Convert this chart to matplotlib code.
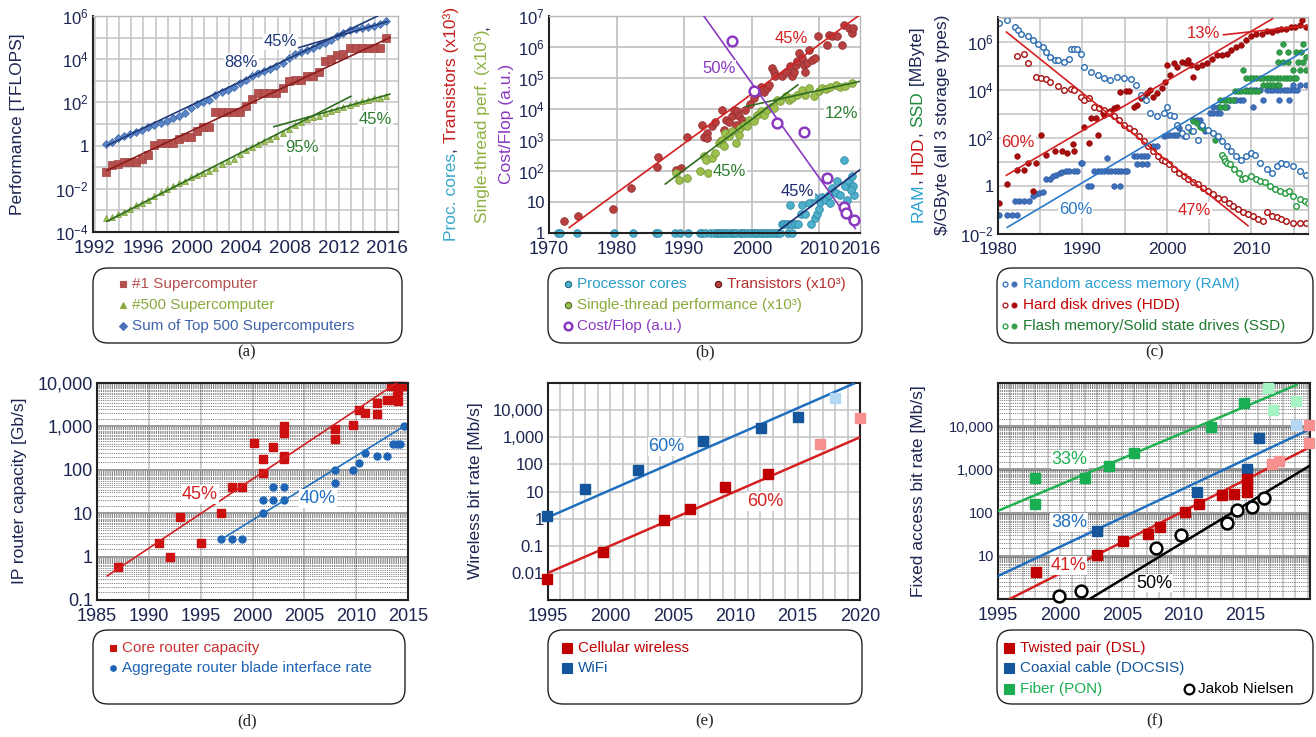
import numpy as np
import matplotlib
matplotlib.use('Agg')
import matplotlib.pyplot as plt
from matplotlib.patches import FancyBboxPatch
from matplotlib.ticker import FixedLocator, NullFormatter

plt.rcParams['font.family'] = ['Liberation Sans', 'DejaVu Sans']
plt.rcParams['mathtext.fontset'] = 'custom'
plt.rcParams['mathtext.rm'] = 'Liberation Sans'
plt.rcParams['mathtext.it'] = 'Liberation Sans:italic'

W, H = 1316, 737
NAVY = '#1b2550'
GRID = '#c4c4c4'

# ---------------- (a) Top500 ----------------
top500_years = np.arange(47) * 0.5 + 1992.9
top1 = [0.0597, 0.1244, 0.1434, 0.170, 0.170, 0.170, 0.2324, 0.368, 1.068, 1.338,
        1.338, 1.338, 2.121, 2.379, 2.379, 4.938, 7.226, 7.226, 35.86, 35.86,
        35.86, 35.86, 35.86, 70.72, 136.8, 280.6, 280.6, 280.6, 280.6, 478.2,
        1026, 1105, 1105, 1759, 1759, 2566, 8162, 10510, 16324, 17590,
        33862, 33862, 33862, 33862, 33862, 33862, 93014]
top500 = [0.000422, 0.000472, 0.000654, 0.000879, 0.00111, 0.00186, 0.00228, 0.00302,
          0.00450, 0.00747, 0.00974, 0.0136, 0.0178, 0.0241, 0.0336, 0.0435, 0.0557,
          0.0672, 0.0941, 0.134, 0.196, 0.245, 0.403, 0.625, 0.850, 1.166, 1.646,
          2.026, 2.737, 4.005, 5.929, 9.0, 12.64, 17.1, 20.05, 24.67, 31.12, 39.1,
          50.9, 60.8, 76.5, 96.6, 117.8, 133.7, 153.5, 164.8, 206.4]
top_sum = [1.128, 1.493, 2.318, 2.732, 3.399, 4.238, 5.370, 7.398, 9.043, 11.68,
           13.18, 18.59, 24.73, 33.09, 57.0, 88.1, 108.6, 134.4, 222, 293,
           375, 528, 813, 1127, 1690, 2300, 2790, 3540, 4920, 6970,
           11700, 16950, 22600, 27950, 32400, 43700, 58900, 74200, 123000, 162000,
           223000, 250000, 274000, 309000, 363000, 420000, 566000]
a_fits = {  # x ends, y ends, colour
    'sum88': ([1993.0, 2015.2], [1.0, 1.0e6], '#1f3a7a'),
    'sum45': ([2008.3, 2016.0], [2.9e4, 5.5e5], '#1f3a7a'),
    'top1': ([1993.0, 2016.2], [0.07, 1.0e5], '#8b1a1a'),
    'p95': ([1993.0, 2013.0], [3.1e-4, 1.9e2], '#2e6e1e'),
    'p45': ([2006.7, 2016.2], [7.5, 2.4e2], '#2e6e1e'),
}

# ---------------- (b) processors ----------------
single_core_years = [1971.3, 1971.7, 1974.2, 1979.6, 1982.4, 1985.8, 1986.1, 1988.6,
                     1989.4, 1990.6, 1992.3, 1992.7, 1993.0, 1993.8, 1994.4, 1994.8,
                     1995.2, 1995.5, 1995.9, 1996.2, 1996.6, 1997.0, 1997.4, 1997.7,
                     1998.2, 1998.5, 1998.9, 1999.3, 1999.7, 2000.1, 2000.4, 2000.8,
                     2001.2, 2001.5, 2001.9, 2002.3, 2002.7, 2003.0, 2003.4, 2003.8,
                     2004.1, 2005.4, 2006.0]
multi_core_years = [2004.4, 2004.8, 2005.2, 2005.6, 2005.7, 2006.0, 2006.4, 2006.8, 2007.2,
                    2007.4, 2007.9, 2008.4, 2008.8, 2009.2, 2009.4, 2009.7, 2009.9,
                    2010.1, 2010.4, 2010.9, 2011.4, 2011.6, 2011.9, 2012.4, 2012.6,
                    2013.1, 2013.6, 2013.8, 2014.1, 2014.4, 2014.8, 2014.9, 2015.1, 2014.7]
multi_core_counts = [2, 2, 2, 2, 8, 2, 2, 2, 4, 8, 4, 9, 2, 15, 3, 4, 6,
                     10, 15, 12, 17, 9, 28, 19, 46, 17, 230, 32, 12, 46, 67, 32, 17, 25]
trans_years = [1972.2, 1974.3, 1979.5, 1982.2, 1986.0, 1986.1, 1988.8, 1989.5, 1990.4,
               1992.7, 1992.9, 1993.3, 1993.4, 1994.1, 1994.6, 1995.5, 1995.6, 1995.9,
               1996.2, 1996.6, 1997.0, 1997.3, 1997.6, 1997.8, 1998.1, 1998.6, 1999.0,
               1999.1, 1999.8, 2000.3, 2000.4, 2000.8, 2001.3, 2001.8, 2002.3, 2002.5,
               2003.0, 2003.3, 2003.5, 2004.5, 2005.0, 2005.7, 2006.0, 2006.2, 2006.5,
               2006.7, 2007.0, 2007.4, 2007.7, 2007.9, 2008.2, 2008.4, 2008.9, 2009.4,
               2009.8, 2011.1, 2011.4, 2011.9, 2012.6, 2013.3, 2013.6, 2014.3, 2014.8, 2014.9]
trans_k = [2.4, 3.6, 6.1, 28, 134, 280, 110, 125, 1250,
           3100, 1250, 1700, 1150, 2750, 3900, 910, 9500, 2150,
           4500, 3900, 5800, 9500, 3100, 8500, 5800, 4500, 9500,
           3500, 15000, 23000, 41000, 32000, 51000, 36000, 48000, 60000,
           210000, 160000, 115000, 115000, 160000, 240000, 115000, 160000, 270000,
           350000, 630000, 440000, 270000, 160000, 310000, 830000, 390000, 440000,
           2200000, 1200000, 2500000, 2200000, 2200000, 1200000, 5200000, 4100000, 2800000, 4100000]
st_years = [1988.8, 1989.3, 1990.4, 1992.4, 1992.9, 1993.2, 1993.5, 1994.1, 1994.6, 1995.1,
            1995.6, 1995.9, 1996.1, 1996.6, 1997.1, 1997.6, 1998.1, 1998.3, 1998.8, 1999.3,
            1999.6, 2000.3, 2000.8, 2001.3, 2001.8, 2002.3, 2002.8, 2003.3, 2003.7, 2004.2,
            2005.0, 2005.5, 2006.0, 2006.7, 2007.4, 2007.9, 2008.4, 2009.2, 2009.9, 2010.4,
            2010.9, 2011.6, 2012.4, 2013.1, 2013.8, 2014.8]
st_k = [86, 52, 59, 98, 300, 230, 86, 260, 380, 800,
        1000, 620, 1700, 1300, 1900, 800, 1500, 2400, 3100, 2800,
        4500, 4000, 6500, 8500, 6500, 9500, 12000, 11000, 20000, 18000,
        26000, 20000, 22000, 29000, 42000, 29000, 47000, 26000, 37000, 47000,
        44000, 51000, 60000, 53000, 56000, 69000]
flop_years = [1997.1, 2000.3, 2003.7, 2007.7, 2011.1, 2013.6, 2013.9, 2015.1]
flop_cost = [1.6e6, 3.7e4, 3500, 1800, 60, 6.9, 4.4, 2.6]
b_fits = {
    'trans': ([1973.0, 2016.0], [1.5, 1.1e7], '#d42020'),
    'st45': ([1987.2, 2006.8], [38, 6.0e4], '#2e6e1e'),
    'st12': ([1999.1, 2016.0], [1.2e4, 7.8e4], '#2e6e1e'),
    'cores': ([2004.0, 2016.0], [1.2, 110], '#1a2a70'),
    'flop': ([1992.9, 2015.3], [1.0e7, 1.4], '#8a3ac0'),
}

# ---------------- (c) storage ----------------
ram_price_years = [1980.1, 1981.1, 1982.0, 1982.4, 1982.7, 1983.5, 1984.1, 1984.7, 1985.3, 1985.7,
                   1986.1, 1986.7, 1987.1, 1987.8, 1988.4, 1988.6, 1989.0, 1989.4, 1989.8, 1990.2,
                   1991.0, 1991.8, 1992.5, 1993.3, 1994.1, 1994.9, 1995.7, 1996.3, 1996.9, 1997.5,
                   1998.0, 1998.8, 1999.6, 2000.0, 2000.4, 2000.8, 2001.2, 2001.8, 2002.2, 2002.5,
                   2003.1, 2003.7, 2004.1, 2004.9, 2005.5, 2006.1, 2006.5, 2007.1, 2007.6, 2008.2,
                   2008.8, 2009.4, 2010.0, 2010.4, 2011.0, 2011.8, 2012.4, 2013.0, 2013.5, 2014.1,
                   2014.9, 2015.7, 2016.5]
ram_price = [6.3e6, 8.4e6, 4.2e6, 3.2e6, 2.2e6, 1.8e6, 1.2e6, 8.5e5, 6e5, 3.8e5,
             2.4e5, 1.8e5, 1.8e5, 1.5e5, 2e5, 5.2e5, 5.2e5, 5.2e5, 3.2e5, 9e4,
             5.7e4, 4.2e4, 3.1e4, 2.6e4, 3.5e4, 3.3e4, 3e4, 1.6e4, 6e3, 3.8e3,
             1.1e3, 790, 1.1e3, 2e3, 900, 790, 360, 160, 120, 300,
             200, 85, 360, 220, 160, 120, 73, 45, 28, 17,
             12.7, 17, 24, 20, 9.2, 4.9, 3.6, 6.7, 9.2, 7.9,
             6.7, 4.2, 3.0]
hdd_price_years = [1982.2, 1983.1, 1983.6, 1984.5, 1985.1, 1985.7, 1986.1, 1987.1, 1987.8, 1988.6,
                   1989.0, 1989.8, 1990.2, 1990.8, 1991.4, 1992.0, 1992.5, 1993.1, 1993.7, 1994.3,
                   1994.9, 1995.5, 1996.1, 1996.7, 1997.3, 1997.8, 1998.4, 1999.0, 1999.4, 1999.8,
                   2000.2, 2000.8, 2001.4, 2002.0, 2002.5, 2003.1, 2003.7, 2004.3, 2004.9, 2005.5,
                   2006.1, 2006.7, 2007.3, 2007.8, 2008.4, 2009.0, 2009.6, 2010.2, 2010.8, 2011.4,
                   2011.8, 2012.4, 2013.0, 2013.5, 2014.1, 2014.9, 2015.7, 2016.5]
hdd_price = [2.5e5, 3.2e5, 1.3e5, 3.5e4, 3.3e4, 2.8e4, 2.2e4, 1.4e4, 1e4, 1.1e4,
             1e4, 5.3e3, 3.8e3, 4.5e3, 2e3, 1.7e3, 1.5e3, 1.1e3, 790, 570,
             360, 260, 190, 120, 73, 45, 28, 17, 12.7, 10.8,
             7.9, 4.9, 3.6, 2.6, 1.9, 1.4, 1.2, 0.85, 0.62, 0.45,
             0.33, 0.28, 0.20, 0.15, 0.11, 0.079, 0.067, 0.057, 0.042, 0.036,
             0.079, 0.057, 0.049, 0.042, 0.036, 0.030, 0.028, 0.028]
ssd_price_years = [2006.5, 2006.7, 2006.9, 2007.1, 2007.5, 2007.9, 2008.5, 2008.9, 2009.3, 2009.9,
                   2010.5, 2011.0, 2011.6, 2012.2, 2012.8, 2013.4, 2014.0, 2014.4, 2014.9, 2015.3,
                   2015.7, 2016.3, 2016.7]
ssd_price = [20, 14, 11, 9.2, 7.9, 4.9, 3.6, 1.9, 2.2, 2.6,
             1.9, 1.6, 1.4, 1.0, 0.73, 0.62, 0.53, 0.62, 0.39, 0.15,
             0.28, 0.24, 0.20]
ram_cap_years = [1980.1, 1981.1, 1981.6, 1982.2, 1982.0, 1982.5, 1983.1, 1983.7, 1984.1, 1984.5,
                 1984.9, 1985.3, 1985.7, 1986.1, 1986.5, 1986.9, 1987.3, 1987.6, 1988.0, 1988.4,
                 1989.0, 1989.4, 1989.8, 1990.0, 1990.6, 1991.0, 1991.4, 1991.8, 1992.2, 1992.6,
                 1993.0, 1993.4, 1993.8, 1994.2, 1994.6, 1995.0, 1995.3, 1992.9, 1993.7, 1994.5,
                 1996.1, 1996.5, 1996.9, 1997.3, 1997.6, 1996.5, 1997.1, 1997.6, 1998.4, 1998.8,
                 1999.6, 2000.0, 2000.4, 2000.8, 2001.2, 2001.4, 2002.0, 2003.1, 2003.5, 2003.9,
                 2004.5, 2005.1, 2005.5, 2005.9, 2006.3, 2005.5, 2006.1, 2006.7, 2007.1, 2007.5,
                 2007.9, 2008.2, 2008.6, 2009.0, 2009.4, 2009.8, 2010.2, 2010.6, 2011.0, 2010.2,
                 2011.4, 2013.3, 2014.5, 2011.8, 2012.2, 2012.6, 2013.0, 2013.4, 2013.8, 2014.2,
                 2014.6, 2015.0, 2015.4, 2014.9, 2015.7, 2016.5]
ram_cap = [0.06, 0.06, 0.06, 0.06, 0.24, 0.24, 0.24, 0.24, 0.39, 0.45,
           0.53, 0.56, 1.9, 1.9, 2.6, 3.0, 3.6, 3.8, 4.2, 4.2,
           4.2, 4.2, 9.2, 9.2, 1.0, 1.0, 4.2, 4.2, 4.2, 4.2,
           4.2, 4.2, 4.2, 4.2, 4.2, 4.2, 4.2, 15, 1.0, 1.0,
           17, 17, 17, 17, 17, 7.9, 7.9, 7.9, 45, 45,
           117, 137, 137, 137, 137, 260, 117, 570, 570, 570,
           190, 1100, 1100, 1100, 1100, 2000, 2000, 2000, 2000, 3800,
           3800, 3800, 3800, 3800, 1e4, 1e4, 1e4, 1e4, 1e4, 2000,
           3800, 3800, 3800, 1e4, 1e4, 1e4, 1e4, 1e4, 1e4, 1e4,
           1e4, 1e4, 1e4, 1.6e4, 1.6e4, 1.6e4]
hdd_cap_years = [1980.1, 1981.1, 1982.2, 1982.2, 1983.1, 1983.6, 1984.1, 1984.5, 1985.1, 1985.7,
                 1986.7, 1987.6, 1988.2, 1988.9, 1989.0, 1990.2, 1990.8, 1991.0, 1991.6, 1991.8,
                 1992.4, 1992.5, 1993.3, 1993.7, 1994.1, 1994.5, 1995.1, 1995.5, 1996.1, 1996.5,
                 1996.9, 1997.3, 1997.6, 1998.0, 1998.4, 1998.8, 1999.4, 1999.8, 2000.0, 2000.4,
                 2000.8, 2001.2, 2001.8, 2002.2, 2002.5, 2002.9, 2003.1, 2003.5, 2004.1, 2004.7,
                 2005.3, 2005.9, 2006.5, 2007.1, 2007.6, 2008.2, 2008.8, 2009.4, 2010.0, 2010.6,
                 2011.2, 2011.8, 2012.4, 2013.0, 2013.5, 2014.1, 2014.7, 2015.2, 2015.8, 2016.0, 2016.5]
hdd_cap = [0.19, 1.2, 18.6, 4.6, 4.6, 9.2, 0.62, 9.2, 137, 20,
           28, 28, 24, 58, 28, 300, 62, 670, 670, 137,
           1100, 920, 1300, 1700, 2000, 8600, 9400, 9400, 2000, 2400,
           4500, 5300, 7200, 1e4, 5300, 7200, 1.2e4, 2.2e4, 1.1e5, 4.2e4,
           1.3e5, 9.4e4, 1.5e5, 1.3e5, 1.8e5, 1.1e5, 3.5e4, 9.4e4, 1.1e5, 1.3e5,
           2e5, 2.8e5, 2.8e5, 3.2e5, 4.5e5, 6.3e5, 7.3e5, 1.2e6, 1.7e6, 2.2e6,
           2.2e6, 3e6, 2.5e6, 3.2e6, 3.6e6, 3.6e6, 4.1e6, 4.4e6, 4.9e6, 7.9e6, 4.1e6]
ssd_cap_years = [2002.9, 2003.1, 2003.5, 2003.9, 2004.3, 2005.7, 2006.3, 2006.7, 2007.0, 2007.4,
                 2007.8, 2006.3, 2006.9, 2008.0, 2008.4, 2008.8, 2009.2, 2009.6, 2010.0, 2010.4,
                 2010.8, 2009.0, 2009.4, 2009.8, 2010.2, 2010.6, 2011.0, 2011.4, 2011.8, 2012.2,
                 2012.6, 2013.0, 2013.4, 2013.8, 2014.2, 2014.6, 2015.0, 2015.3, 2011.4, 2011.8,
                 2012.2, 2012.6, 2013.0, 2013.3, 2013.1, 2013.7, 2014.3, 2013.3, 2014.3, 2015.3,
                 2015.9, 2013.7, 2016.1, 2014.9, 2015.7, 2016.5, 2016.5, 2015.5, 2016.1]
ssd_cap = [190, 490, 420, 300, 260, 85, 3800, 3800, 3800, 3800,
           3800, 2000, 2000, 9000, 9000, 9000, 9000, 9000, 9000, 9000,
           9000, 6.7e4, 3.1e4, 3.1e4, 3.1e4, 3.1e4, 3.1e4, 3.1e4, 3.1e4, 3.1e4,
           3.1e4, 3.1e4, 3.1e4, 3.1e4, 3.1e4, 3.1e4, 3.1e4, 3.1e4, 1.6e4, 1.6e4,
           1.6e4, 1.6e4, 1.6e4, 1.6e4, 1.5e5, 1.5e5, 1.5e5, 3.9e5, 3.9e5, 3.9e5,
           3.9e5, 8.4e5, 8.4e5, 6.7e4, 6.7e4, 6.7e4, 2.4e5, 1.5e5, 1.5e5]
c_fits = {
    'hdd60': ([1981.0, 2012.5], [2.8, 9.3e6], '#d42020'),
    'hdd47': ([1981.0, 2009.6], [2.6e6, 0.022], '#d42020'),
    'hdd13': ([2006.7, 2016.9], [2.0e6, 4.9e6], '#d42020'),
    'ram60': ([1981.1, 2016.7], [0.019, 5.2e5], '#2a78c8'),
}

# ---------------- (d) routers ----------------
core_years = [1987.0, 1991.0, 1992.0, 1993.0, 1995.0, 1997.0, 1998.0, 1999.0, 2000.1, 2001.0,
              2001.0, 2002.0, 2003.0, 2003.0, 2003.0, 2003.0, 2008.0, 2008.0, 2009.7, 2010.3,
              2010.9, 2012.0, 2012.0, 2013.0, 2013.4, 2013.6, 2013.7, 2013.9, 2014.0, 2014.0,
              2014.2, 2014.5]
core_gbps = [0.57, 2.05, 1.0, 8.3, 2.05, 10.2, 40, 40, 420, 175,
             83, 340, 207, 180, 1000, 690, 860, 510, 1100, 2400,
             2000, 3400, 1900, 4100, 8400, 4100, 8700, 5100, 3900, 6600,
             8700, 8700]
blade_years = [1997.0, 1998.0, 1999.0, 2001.0, 2001.0, 2002.0, 2002.0, 2003.0, 2003.0, 2008.0,
               2008.0, 2009.7, 2010.3, 2010.9, 2012.0, 2013.0, 2013.6, 2013.9, 2014.2, 2014.6]
blade_gbps = [2.5, 2.5, 2.5, 10, 20, 20, 40, 20, 40, 100,
              50, 100, 141, 240, 207, 207, 400, 400, 400, 1000]
d_fits = {
    'core45': ([1986.0, 2013.9], [0.36, 1.0e4], '#d42020'),
    'blade40': ([1997.0, 2014.6], [2.5, 1000], '#1f6fc0'),
}

# ---------------- (e) wireless ----------------
wifi_years = [1994.9, 1998.0, 2002.2, 2007.4, 2012.1, 2015.0]
wifi_mbps = [1.3, 12.9, 63, 710, 2140, 5400]
wifi_future_years = [2018.0]
wifi_future_mbps = [27500]
cell_years = [1994.9, 1999.4, 2004.3, 2006.4, 2009.2, 2012.6]
cell_mbps = [0.0057, 0.059, 0.87, 2.2, 14.4, 46]
cell_future_years = [2016.8, 2020.0]
cell_future_mbps = [570, 5100]
e_fits = {
    'wifi60': ([1995.0, 2019.5], [1.12, 9.5e4], '#1f6fc0'),
    'cell60': ([1995.0, 2020.0], [0.01, 1000], '#d42020'),
}

# ---------------- (f) fixed access ----------------
pon_years = [1998.0, 1998.0, 2002.0, 2004.0, 2006.0, 2012.2, 2014.9]
pon_mbps = [632, 155, 632, 1210, 2450, 9500, 34000]
pon_future_years = [2016.8, 2017.2, 2019.1]
pon_future_mbps = [78000, 24000, 39000]
coax_years = [2003.0, 2011.1, 2015.1, 2016.1]
coax_mbps = [38, 300, 1020, 5200]
coax_future_years = [2019.1]
coax_future_mbps = [10400]
dsl_years = [1998.1, 2003.0, 2005.1, 2007.1, 2008.1, 2010.1, 2011.2, 2013.1, 2014.1, 2015.1,
             2015.1, 2015.1]
dsl_mbps = [4.2, 10.2, 22, 32, 47, 104, 155, 250, 270, 300, 460, 600]
dsl_future_years = [2017.1, 2017.7, 2020.1, 2020.1]
dsl_future_mbps = [1330, 1580, 10400, 4000]
nielsen_years = [1999.9, 2001.7, 2007.8, 2009.8, 2013.5, 2014.3, 2015.5, 2016.5]
nielsen_mbps = [1.2, 1.5, 15.5, 30, 56, 112, 135, 220]
f_fits = {
    'pon33': ([1995.0, 2019.1], [110, 9.0e4], '#20b050'),
    'coax38': ([1995.0, 2020.4], [3.4, 9100], '#1f6fc0'),
    'dsl41': ([1996.0, 2020.4], [1.02, 3500], '#d42020'),
    'jn50': ([2002.4, 2020.4], [1.0, 1330], 'black'),
}

fig = plt.figure(figsize=(W / 100, H / 100), dpi=100)


def panel(left, top, right, bottom, xsize=13, ysize=12):
    ax = fig.add_axes([left / W, 1 - bottom / H, (right - left) / W, (bottom - top) / H])
    ax.set_yscale('log')
    ax.set_axisbelow(True)
    ax.tick_params(which='both', length=0, colors=NAVY)
    ax.tick_params(axis='x', pad=6, labelsize=xsize)
    ax.tick_params(axis='y', pad=3, labelsize=ysize)
    return ax


def frame(ax, full):
    for side, s in ax.spines.items():
        if full or side in ('left', 'bottom'):
            s.set_color('#222222')
            s.set_linewidth(1.5)
        else:
            s.set_color('#b8b8b8')
            s.set_linewidth(1.0)


def fits(ax, fd, lw=1.2):
    for xs, ys, c in fd.values():
        ax.plot(xs, ys, color=c, lw=lw, zorder=3)


def pct(ax, x, y, s, c, size=12):
    ax.text(x, y, s, color=c, fontsize=size, ha='center', va='center', zorder=4,
            bbox=dict(fc='white', ec='none', pad=0.6))


def pow_label(e):
    return '1' if e == 0 else '$\\mathregular{10^{%d}}$' % e


# (a)
ax = panel(93, 16, 398, 232, xsize=13.5)
frame(ax, False)
ax.set_xlim(1991.86, 2016.87)
ax.set_ylim(1e-4, 1e6)
ax.set_xticks(range(1992, 2017, 4))
ax.xaxis.set_minor_locator(FixedLocator(range(1993, 2017)))
ax.set_yticks([10.0 ** e for e in range(-4, 7, 2)])
ax.set_yticklabels([pow_label(e) for e in range(-4, 7, 2)])
ax.yaxis.set_minor_locator(FixedLocator([10.0 ** e for e in range(-3, 6, 2)]))
ax.yaxis.set_minor_formatter(NullFormatter())
ax.grid(True, which='both', color=GRID, lw=1.1)
ax.plot(top500_years, top1, 's', ms=6, mfc='#b5504e', mec='#a04040', mew=0.5, zorder=2)
ax.plot(top500_years, top500, '^', ms=5, mfc='#9cbf58', mec='#7a9a3a', mew=0.5, zorder=2)
ax.plot(top500_years, top_sum, 'D', ms=4, mfc='#5a86c8', mec='#3a64a8', mew=0.5, zorder=2)
fits(ax, a_fits)
pct(ax, 2007.25, 10 ** 4.8, '45%', '#1f3a7a')
pct(ax, 2004.0, 10 ** 3.87, '88%', '#1f3a7a')
pct(ax, 2009.0, 10 ** -0.11, '95%', '#2e7d32')
pct(ax, 2015.0, 10 ** 1.23, '45%', '#2e7d32')

# (b)
ax = panel(549, 16, 860, 233)
frame(ax, False)
ax.set_xlim(1970, 2016)
ax.set_ylim(1, 1e7)
ax.set_xticks([1970, 1980, 1990, 2000, 2010, 2016])
ax.set_yticks([10.0 ** e for e in range(0, 8)])
ax.set_yticklabels(['1', '10'] + [pow_label(e) for e in range(2, 8)])
ax.yaxis.set_minor_locator(FixedLocator([]))
for gx in [1980, 1990, 2000, 2010]:
    ax.axvline(gx, color=GRID, lw=1.3, zorder=0)
ax.grid(True, axis='y', which='major', color=GRID, lw=1.3)
ax.plot(single_core_years, [1] * len(single_core_years), 'o', ms=5.5, mfc='#4fb0cc',
        mec='#2a8aa8', mew=0.6, clip_on=False, zorder=2)
ax.plot(multi_core_years, multi_core_counts, 'o', ms=5.5, mfc='#4fb0cc', mec='#2a8aa8',
        mew=0.6, zorder=2)
ax.plot(trans_years, trans_k, 'o', ms=5.5, mfc='#b84040', mec='#943030', mew=0.6, zorder=2)
ax.plot(st_years, st_k, 'o', ms=5.5, mfc='#9cbf4e', mec='#7a9a38', mew=0.6, zorder=2)
ax.plot(flop_years, flop_cost, 'o', ms=7, mfc='white', mec='#8a3ac0', mew=1.8, zorder=4)
fits(ax, b_fits)
pct(ax, 2005.9, 10 ** 6.29, '45%', '#d42020')
pct(ax, 1995.1, 10 ** 5.32, '50%', '#8a3ac0')
pct(ax, 2013.3, 10 ** 3.87, '12%', '#2e7d32')
pct(ax, 1996.7, 10 ** 1.97, '45%', '#2e7d32')
pct(ax, 2006.8, 10 ** 1.35, '45%', '#1a2a70')

# (c)
ax = panel(998, 17, 1308, 234, xsize=12.5)
frame(ax, False)
ax.set_xlim(1980, 2016.7)
ax.set_ylim(1e-2, 1.1e7)
ax.set_xticks([1980, 1990, 2000, 2010])
ax.xaxis.set_minor_locator(FixedLocator([1985, 1995, 2005, 2015]))
ax.set_yticks([10.0 ** e for e in range(-2, 7, 2)])
ax.set_yticklabels([pow_label(e) for e in range(-2, 7, 2)])
ax.yaxis.set_minor_locator(FixedLocator([10.0 ** e for e in range(-1, 8, 2)]))
ax.yaxis.set_minor_formatter(NullFormatter())
ax.grid(True, which='both', color=GRID, lw=1.1)
ms_c = 4
ax.plot(ram_cap_years, ram_cap, 'o', ms=ms_c, mfc='#3f6fb8', mec='#3060a8', mew=0.5, zorder=2)
ax.plot(ssd_cap_years, ssd_cap, 'o', ms=ms_c, mfc='#32a04a', mec='#208838', mew=0.5, zorder=2)
ax.plot(hdd_cap_years, hdd_cap, 'o', ms=ms_c, mfc='#a80c0c', mec='#900808', mew=0.5, zorder=2)
ax.plot(ram_price_years, ram_price, 'o', ms=ms_c, mfc='white', mec='#2a6cb0', mew=1.0, zorder=2)
ax.plot(hdd_price_years, hdd_price, 'o', ms=ms_c, mfc='white', mec='#a80c0c', mew=1.0, zorder=2)
ax.plot(ssd_price_years, ssd_price, 'o', ms=ms_c, mfc='white', mec='#20983a', mew=1.0, zorder=2)
fits(ax, c_fits)
pct(ax, 2004.3, 10 ** 6.37, '13%', '#d42020')
pct(ax, 1982.4, 10 ** 1.82, '60%', '#d42020')
pct(ax, 1989.2, 10 ** -0.99, '60%', '#2a78c8')
pct(ax, 2003.3, 10 ** -1.03, '47%', '#d42020')

# (d)
ax = panel(97, 383, 408, 600, ysize=13)
frame(ax, True)
ax.set_xlim(1985, 2015)
ax.set_ylim(0.1, 1e4)
ax.set_xticks(range(1985, 2016, 5))
ax.set_yticks([0.1, 1, 10, 100, 1000, 10000])
ax.set_yticklabels(['0.1', '1', '10', '100', '1,000', '10,000'])
minor_d = [m * 10.0 ** k for k in range(-1, 4) for m in np.arange(1.5, 10, 0.5)]
ax.yaxis.set_minor_locator(FixedLocator(minor_d))
ax.yaxis.set_minor_formatter(NullFormatter())
ax.grid(True, axis='x', which='major', color=GRID, lw=1.2)
ax.grid(True, axis='y', which='major', color='#9a9a9a', lw=1.4)
ax.grid(True, axis='y', which='minor', color='#555555', lw=0.6, ls=(0, (1, 1.2)))
ax.plot(core_years, core_gbps, 's', ms=5.5, mfc='#cc1010', mec='#cc1010', clip_on=False, zorder=2)
ax.plot(blade_years, blade_gbps, 'o', ms=5, mfc='#1f64b4', mec='#1f64b4', clip_on=False, zorder=2)
fits(ax, d_fits)
pct(ax, 1994.9, 10 ** 1.43, '45%', '#d42020', 13)
pct(ax, 2006.3, 10 ** 1.33, '40%', '#1f6fc0', 13)

# (e)
ax = panel(548, 383, 860, 600)
frame(ax, True)
ax.set_xlim(1995, 2020)
ax.set_ylim(1e-3, 1e5)
ax.set_xticks(range(1995, 2021, 5))
ax.xaxis.set_minor_locator(FixedLocator(range(1996, 2020)))
ax.set_yticks([0.01, 0.1, 1, 10, 100, 1000, 10000])
ax.set_yticklabels(['0.01', '0.1', '1', '10', '100', '1,000', '10,000'])
ax.yaxis.set_minor_locator(FixedLocator([1e-3, 1e5]))
ax.yaxis.set_minor_formatter(NullFormatter())
ax.grid(True, which='both', color=GRID, lw=1.1)
fits(ax, e_fits, lw=1.8)
ax.plot(wifi_years, wifi_mbps, 's', ms=7, mfc='#14559c', mec='#14559c', clip_on=False, zorder=4)
ax.plot(wifi_future_years, wifi_future_mbps, 's', ms=7, mfc='#b4d8f4', mec='#b4d8f4', clip_on=False, zorder=4)
ax.plot(cell_years, cell_mbps, 's', ms=7, mfc='#c00000', mec='#c00000', clip_on=False, zorder=4)
ax.plot(cell_future_years, cell_future_mbps, 's', ms=7, mfc='#f89090', mec='#f89090', clip_on=False, zorder=4)
pct(ax, 2004.5, 10 ** 2.67, '60%', '#1f6fc0', 13)
pct(ax, 2012.4, 10 ** 0.62, '60%', '#d42020', 13)

# (f)
ax = panel(998, 383, 1310, 599, ysize=10.5)
frame(ax, True)
ax.set_xlim(1995, 2020.2)
ax.set_ylim(1, 1e5)
ax.set_xticks(range(1995, 2016, 5))
ax.xaxis.set_minor_locator(FixedLocator(range(1996, 2021)))
ax.set_yticks([10, 100, 1000, 10000])
ax.set_yticklabels(['10', '100', '1,000', '10,000'])
minor_f = [m * 10.0 ** k for k in range(0, 5) for m in np.arange(1.5, 10, 0.5)] + [1e5]
ax.yaxis.set_minor_locator(FixedLocator(minor_f))
ax.yaxis.set_minor_formatter(NullFormatter())
ax.grid(True, axis='x', which='both', color=GRID, lw=1.1)
ax.grid(True, axis='y', which='major', color='#9a9a9a', lw=2.2)
ax.grid(True, axis='y', which='minor', color='#555555', lw=0.6, ls=(0, (1, 1.2)))
fits(ax, f_fits, lw=1.8)
sq = dict(ls='none', marker='s', ms=7, clip_on=False, zorder=4)
ax.plot(pon_years, pon_mbps, mfc='#1aae52', mec='#1aae52', **sq)
ax.plot(pon_future_years, pon_future_mbps, mfc='#a4f4c4', mec='#a4f4c4', **sq)
ax.plot(coax_years, coax_mbps, mfc='#14559c', mec='#14559c', **sq)
ax.plot(coax_future_years, coax_future_mbps, mfc='#b4d8f4', mec='#b4d8f4', **sq)
ax.plot(dsl_years, dsl_mbps, mfc='#c00000', mec='#c00000', **sq)
ax.plot(dsl_future_years, dsl_future_mbps, mfc='#f89090', mec='#f89090', **sq)
ax.plot(nielsen_years, nielsen_mbps, 'o', ms=8.5, mfc='white', mec='black', mew=1.8,
        clip_on=False, zorder=5)
pct(ax, 2000.8, 10 ** 3.22, '33%', '#20b050', 13)
pct(ax, 2000.75, 10 ** 1.77, '38%', '#1f6fc0', 13)
pct(ax, 2000.7, 10 ** 0.78, '41%', '#d42020', 13)
pct(ax, 2007.6, 10 ** 0.37, '50%', 'black', 13)

# ---------------- overlay: labels, legends, captions ----------------
ov = fig.add_axes([0, 0, 1, 1], zorder=5)
ov.set_xlim(0, W)
ov.set_ylim(H, 0)
ov.axis('off')
renderer = fig.canvas.get_renderer()


def vlabel(xc, yc, parts, size=12.5):
    # multi-coloured rotated label, pieces stacked bottom to top on one baseline
    base = xc + 0.3 * size * 100 / 72
    items = []
    for s, c in parts:
        t = ov.text(0, 0, s, color=c, fontsize=size, rotation=90,
                    rotation_mode='anchor', ha='left', va='baseline')
        items.append((t, t.get_window_extent(renderer).height))
    y = yc + sum(h for _, h in items) / 2
    for t, h in items:
        t.set_position((base, y))
        y -= h


vlabel(17, 124, [('Performance [TFLOPS]', NAVY)])
vlabel(451, 124, [('Proc. cores', '#3aa8cc'), (', ', NAVY), ('Transistors (x10³)', '#c81e1e')])
vlabel(482, 124, [('Single-thread perf. (x10³)', '#8cb040'), (',', NAVY)])
vlabel(506, 124, [('Cost/Flop (a.u.)', '#8a3ac0')])
vlabel(917, 125, [('RAM', '#2aa0d4'), (', ', NAVY), ('HDD', '#d01010'), (', ', NAVY),
                  ('SSD', '#1a8a3a'), (' [MByte]', NAVY)])
vlabel(942, 125, [('$/GByte (all 3 storage types)', NAVY)])
vlabel(19, 491, [('IP router capacity [Gb/s]', NAVY)])
vlabel(475, 491, [('Wireless bit rate [Mb/s]', NAVY)])
vlabel(918, 491, [('Fixed access bit rate [Mb/s]', NAVY)])


def box(x0, y0, x1, y1):
    ov.add_patch(FancyBboxPatch((x0, y0), x1 - x0, y1 - y0,
                                boxstyle='round,pad=0,rounding_size=15',
                                fc='white', ec='#222222', lw=1.0))


def entry(x, y, text, tcolor, marker, mfc, mec, ms=4.5, mew=0.8, dx=9):
    ov.plot([x], [y], marker=marker, ms=ms, mfc=mfc, mec=mec, mew=mew, ls='none')
    ov.text(x + dx, y, text, color=tcolor, fontsize=11, ha='left', va='center')


box(93, 268, 402, 343)
entry(123, 284, '#1 Supercomputer', '#b5504e', 's', '#b5504e', '#b5504e')
entry(123, 305, '#500 Supercomputer', '#8aaa3c', '^', '#8aaa3c', '#8aaa3c')
entry(123, 326, 'Sum of Top 500 Supercomputers', '#3f64aa', 'D', '#4a72b8', '#4a72b8', ms=4)

box(548, 268, 862, 343)
entry(568, 284, 'Processor cores', '#2a9cc8', 'o', '#4fb0cc', '#1c6a80')
entry(718, 284, 'Transistors (x10³)', '#b83030', 'o', '#b84040', '#5a1010')
entry(568, 305, 'Single-thread performance (x10³)', '#8aaa3c', 'o', '#9cbf4e', '#4a6a20')
entry(568, 326, 'Cost/Flop (a.u.)', '#8a3ac0', 'o', 'white', '#8a3ac0', ms=5.5, mew=1.8)

box(997, 268, 1313, 343)
for y, oc, fc, txt, tc in [(284, '#2a6cb0', '#3f6fb8', 'Random access memory (RAM)', '#2aa0d4'),
                           (305, '#a80c0c', '#a80c0c', 'Hard disk drives (HDD)', '#c80000'),
                           (326, '#20983a', '#32a04a', 'Flash memory/Solid state drives (SSD)', '#1f7a30')]:
    ov.plot([1005], [y], 'o', ms=3.5, mfc='white', mec=oc, mew=0.9)
    entry(1014, y, txt, tc, 'o', fc, fc, ms=3.5)

box(93, 630, 405, 704)
entry(113, 648, 'Core router capacity', '#cc3030', 's', '#cc1010', '#cc1010', ms=4)
entry(113, 668, 'Aggregate router blade interface rate', '#1f64b4', 'o', '#1f64b4', '#1f64b4', ms=4)

box(548, 630, 862, 704)
entry(567, 648, 'Cellular wireless', '#c00000', 's', '#c00000', '#c00000', ms=7, dx=11)
entry(567, 668, 'WiFi', '#14559c', 's', '#14559c', '#14559c', ms=7, dx=11)

box(997, 630, 1313, 704)
entry(1009, 648, 'Twisted pair (DSL)', '#c00000', 's', '#c00000', '#c00000', ms=7, dx=11)
entry(1009, 668, 'Coaxial cable (DOCSIS)', '#14559c', 's', '#14559c', '#14559c', ms=7, dx=11)
entry(1009, 689, 'Fiber (PON)', '#1aae52', 's', '#1aae52', '#1aae52', ms=7, dx=11)
entry(1189, 689, 'Jakob Nielsen', 'black', 'o', 'white', 'black', ms=7, mew=1.6, dx=9)

for x, y, s in [(247, 352, '(a)'), (705, 352, '(b)'), (1155, 352, '(c)'),
                (247, 721, '(d)'), (705, 721, '(e)'), (1155, 721, '(f)')]:
    ov.text(x, y, s, fontsize=12, family=['Liberation Serif', 'DejaVu Serif'],
            ha='center', va='center', color='#222222')

fig.savefig('out.png', dpi=100)
